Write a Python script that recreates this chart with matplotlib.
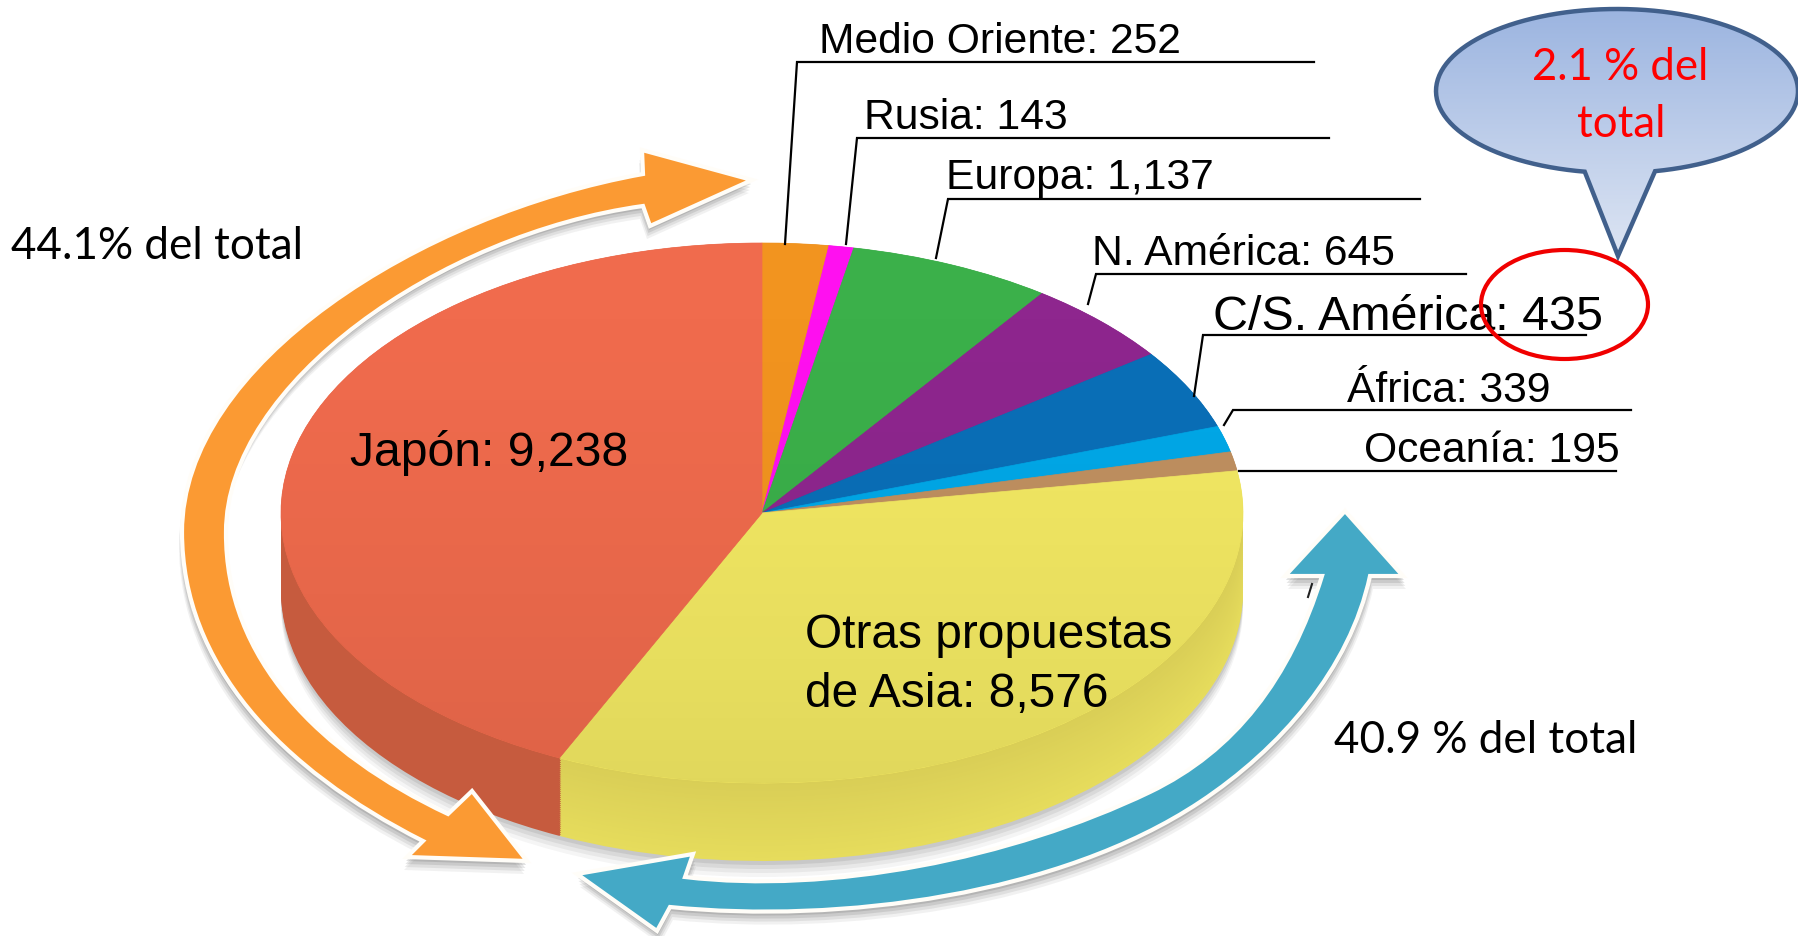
import numpy as np
import matplotlib
matplotlib.use("Agg")
import matplotlib.pyplot as plt
from matplotlib.colors import LinearSegmentedColormap, to_rgb
from matplotlib.patches import Ellipse, PathPatch
from matplotlib.path import Path

W, H = 1798, 937

regions = ["Medio Oriente", "Rusia", "Europa", "N. América", "C/S. América",
           "África", "Oceanía", "Otras propuestas\nde Asia", "Japón"]
proposals = ["252", "143", "1,137", "645", "435", "339", "195", "8,576", "9,238"]
# the drawing is not to scale with the numbers, so the arcs are read off the picture (degrees)
slice_deg = [8, 3, 24.6, 18.4, 17.3, 5.6, 4.1, 123.9, 155.1]
top_colors = ["#f2941f", "#ff10f0", "#3bb04a", "#8e268e", "#0a6fb8",
              "#00a8e8", "#c09060", "#f3e963", "#f06b4d"]
wall_colors = ["#c97a18", "#d00dc8", "#30903c", "#741f74", "#085a96",
               "#0089bd", "#9c754e", "#d9ce56", "#c65b3e"]
wall_low_colors = ["#c97a18", "#d00dc8", "#30903c", "#741f74", "#085a96",
                   "#0089bd", "#9c754e", "#e6dc5c", "#c65b3e"]
share_japan = "44.1% del total"
share_asia = "40.9 % del total"
share_callout = "2.1 % del\ntotal"

# pie geometry in pixels
cx, cy, rx, ry, depth = 762, 514, 481, 270, 78

# label: x, baseline y, font size. leader: list of pixel points
label_pos = [(819, 53, 30.7), (864, 129, 30.7), (946, 189, 30.7), (1092, 265, 30.7),
             (1213, 330, 34.8), (1347, 402, 30.7), (1364, 462, 30.7), (805, 648, 34.5), (350, 466, 34.7)]
leaders = [[(1314, 63), (797, 63), (785, 245)],
           [(1329, 139), (857, 139), (846, 245)],
           [(1420, 200), (948, 200), (936, 259)],
           [(1466, 275), (1096, 275), (1088, 305)],
           [(1586, 336), (1203, 336), (1194, 397)],
           [(1631, 411), (1233, 411), (1224, 426)],
           [(1616, 472), (1239, 472)]]

fig = plt.figure(figsize=(W/100, H/100), dpi=100, facecolor="white")

# whole-figure axes where the pie has radius 1 in both directions, which squashes it to an ellipse
pie_ax = fig.add_axes([0, 0, 1, 1])

# shadow under the pie
for off, a in [(16, 0.06), (12, 0.08), (8, 0.1), (4, 0.12)]:
    pie_ax.add_patch(Ellipse((0, -(depth+off)/ry), 2, 2, fc="#555555", ec="none", alpha=a, zorder=0))

n_wall = 40
for k in range(n_wall, -1, -1):
    f = k/n_wall
    cols = [tuple((1-f)*np.array(to_rgb(a))+f*np.array(to_rgb(b))) for a, b in zip(wall_colors, wall_low_colors)]
    pie_ax.pie(slice_deg, colors=cols, startangle=90, counterclock=False,
               radius=1, center=(0, -f*depth/ry),
               wedgeprops={"linewidth": 0.6, "edgecolor": "none"})

wedges, _ = pie_ax.pie(slice_deg, colors=top_colors, startangle=90, counterclock=False,
                       radius=1, wedgeprops={"linewidth": 0.5})
for w, c in zip(wedges, top_colors):
    w.set_edgecolor(c)

# top face gets a bit darker towards the front
shade = np.zeros((100, 1, 4))
shade[:, 0, 3] = 0.075*np.linspace(0, 1, 100)**1.5
im = pie_ax.imshow(shade, extent=(-1, 1, -1, 1), aspect="auto", origin="upper", zorder=5)
im.set_clip_path(Ellipse((0, 0), 2, 2, transform=pie_ax.transData))

pie_ax.set_aspect("auto")
pie_ax.set_xlim(-cx/rx, (W-cx)/rx)
pie_ax.set_ylim(-(H-cy)/ry, cy/ry)
pie_ax.axis("off")

ax = fig.add_axes([0, 0, 1, 1])
ax.set_xlim(0, W)
ax.set_ylim(H, 0)
ax.axis("off")
ax.patch.set_alpha(0)


def arrow_path(head_a, curve_in, head_b, curve_out, head_c):
    # head_a, then inner edge beziers, then second head, then outer edge back
    verts = list(head_a)
    codes = [Path.MOVETO] + [Path.LINETO]*(len(head_a)-1)
    for seg in curve_in:
        verts += seg
        codes += [Path.CURVE4]*3
    verts += head_b
    codes += [Path.LINETO]*len(head_b)
    for seg in curve_out:
        verts += seg
        codes += [Path.CURVE4]*3
    verts += head_c
    codes += [Path.LINETO]*len(head_c)
    verts.append(head_a[0])
    codes.append(Path.CLOSEPOLY)
    return Path(verts, codes)


def draw_arrow(path, color, dx):
    for off, a in [(13, 0.07), (10, 0.1), (7, 0.13), (4, 0.16)]:
        shifted = Path(path.vertices + [dx*off/13, off], path.codes)
        ax.add_patch(PathPatch(shifted, fc="#444444", ec="none", alpha=a, zorder=2))
    ax.add_patch(PathPatch(path, fc=color, ec="#fffdf8", lw=3, joinstyle="miter", zorder=3))


orange = arrow_path(
    [(527, 862), (472, 792), (448, 815)],
    [[(320, 755), (225, 660), (226, 533)], [(226, 385), (440, 235), (643, 207)]],
    [(650, 227), (752, 181), (642, 151), (643, 175)],
    [[(420, 215), (182, 365), (182, 533)], [(182, 665), (280, 770), (423, 842)]],
    [(407, 858)])
blue = arrow_path(
    [(577, 875), (693, 855), (685, 878)],
    [[(830, 895), (1010, 860), (1150, 793)], [(1235, 752), (1290, 680), (1322, 577)]],
    [(1285, 577), (1345, 512), (1403, 577), (1370, 577)],
    [[(1350, 670), (1280, 750), (1200, 803)], [(1060, 896), (840, 925), (670, 908)]],
    [(657, 932)])
draw_arrow(orange, "#fb9a33", -3)
draw_arrow(blue, "#44a9c6", 3)
# stray tick left over beside the blue arrow head
ax.plot([1312, 1308], [585, 598], color="#222222", lw=1.5, zorder=2.5)

for pts in leaders:
    xs, ys = zip(*pts)
    ax.plot(xs, ys, color="black", lw=1.6, solid_joinstyle="miter", zorder=4)

for name, val, (x, y, fs) in zip(regions, proposals, label_pos):
    if "\n" in name:
        first, second = name.split("\n")
        ax.text(x, y, first, fontsize=fs, family="Liberation Sans", va="baseline", zorder=6)
        ax.text(x, y+59, second+": "+val, fontsize=fs, family="Liberation Sans", va="baseline", zorder=6)
    else:
        ax.text(x, y, name+": "+val, fontsize=fs, family="Liberation Sans", va="baseline", zorder=6)

ax.text(11, 259, share_japan, fontsize=31.7, family="Lato", va="baseline", zorder=6)
ax.text(1334, 753, share_asia, fontsize=31.7, family="Lato", va="baseline", zorder=6)

# callout: ellipse with a tail, gradient clipped to it
ex, ey, erx, ery = 1617, 92, 181, 82
t0 = np.arctan2((172-ey)/ery, (1655-ex)/erx)
t1 = np.arctan2((172-ey)/ery, (1585-ex)/erx)
if t1 < t0:
    t1 += 2*np.pi
t = np.linspace(t1, t0+2*np.pi, 120)
px = ex+erx*np.cos(t)
py = ey+ery*np.sin(t)
call_verts = list(zip(px, py))+[(1618, 257)]+[(px[0], py[0])]
call_path = Path(call_verts, [Path.MOVETO]+[Path.LINETO]*(len(call_verts)-2)+[Path.CLOSEPOLY])
call_patch = PathPatch(call_path, fc="none", ec="#41608c", lw=3.2, joinstyle="miter", zorder=7)
ax.add_patch(call_patch)
cmap = LinearSegmentedColormap.from_list("call", ["#9bb4e0", "#dde5f3"])
grad = ax.imshow(np.linspace(0, 1, 200).reshape(-1, 1), cmap=cmap, extent=(1430, W, 257, 8),
                 aspect="auto", zorder=6.5)
grad.set_clip_path(call_patch)
ax.set_xlim(0, W)
ax.set_ylim(H, 0)

lines = share_callout.split("\n")
ax.text(1620, 80, lines[0], color="#ff0000", fontsize=31.5, family="Lato", ha="center", va="baseline", zorder=8)
ax.text(1621, 137, lines[1], color="#ff0000", fontsize=31.5, family="Lato", ha="center", va="baseline", zorder=8)

ax.add_patch(Ellipse((1564.5, 305.5), 167, 109, fc="none", ec="#f00000", lw=3, zorder=8))

fig.savefig("out.png", dpi=100)
